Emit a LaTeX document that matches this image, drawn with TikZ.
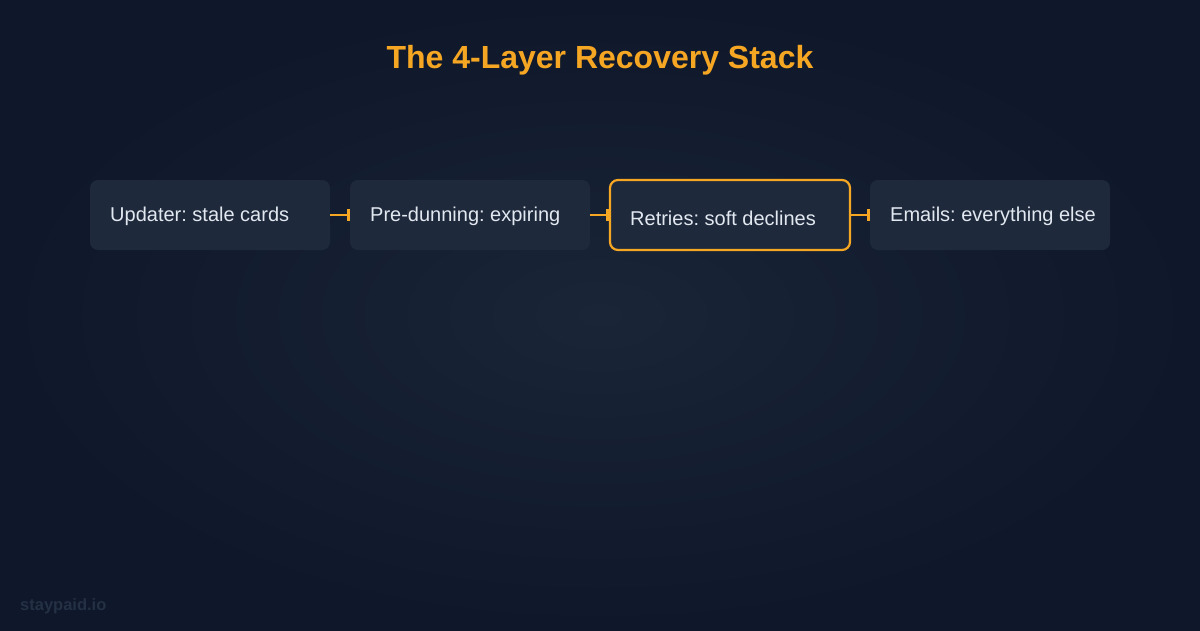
\documentclass[tikz,border=0pt]{standalone}
\usepackage{fontspec}
\setmainfont{Liberation Sans}
\usetikzlibrary{arrows.meta}
\definecolor{bgout}{HTML}{0F172A}
\definecolor{bgin}{HTML}{1A2538}
\definecolor{boxfill}{HTML}{1E293B}
\definecolor{accent}{HTML}{F5A623}
\definecolor{txt}{HTML}{E2E8F0}
\definecolor{wmcol}{HTML}{243044}
\tikzset{
  layer/.style={rounded corners=8pt, fill=boxfill, minimum width=240pt, minimum height=70pt, inner sep=0pt},
  hilite/.style={layer, draw=accent, line width=2.2pt},
  lbl/.style={anchor=west, text=txt, font=\frenchspacing\fontsize{20pt}{22pt}\selectfont, inner sep=0pt},
  conn/.style={draw=accent, line width=2.5pt, -{Bar[width=12pt,line width=2.5pt]}},
}
\begin{document}
\frenchspacing
\begin{tikzpicture}[x=1pt,y=-1pt]
\useasboundingbox (0,0) rectangle (1200,630);
\shade[inner color=bgin, outer color=bgout] (0,0) rectangle (1200,630);
\node[anchor=center, text=accent, font=\bfseries\fontsize{32pt}{34pt}\selectfont] (title) at (600,60) {The 4-Layer Recovery Stack};
\node[layer] (b1) at (210,215) {};
\node[layer] (b2) at (470,215) {};
\node[hilite] (b3) at (730,215) {};
\node[layer] (b4) at (990,215) {};
\node[lbl] (t1) at (110,216.5) {Updater: stale cards};
\node[lbl] (t2) at (370,216.5) {Pre-dunning: expiring};
\node[lbl] (t3) at (630,218.5) {Retries: soft declines};
\node[lbl] (t4) at (890,216.5) {Emails: everything else};
\draw[conn] (b1.east) -- (b2.west);
\draw[conn] (b2.east) -- (b3.west);
\draw[conn] (b3.east) -- (b4.west);
\node[anchor=west, text=wmcol, font=\bfseries\fontsize{16.5pt}{18pt}\selectfont, inner sep=0pt] (wm) at (20,606) {staypaid.io};
\end{tikzpicture}
\end{document}
